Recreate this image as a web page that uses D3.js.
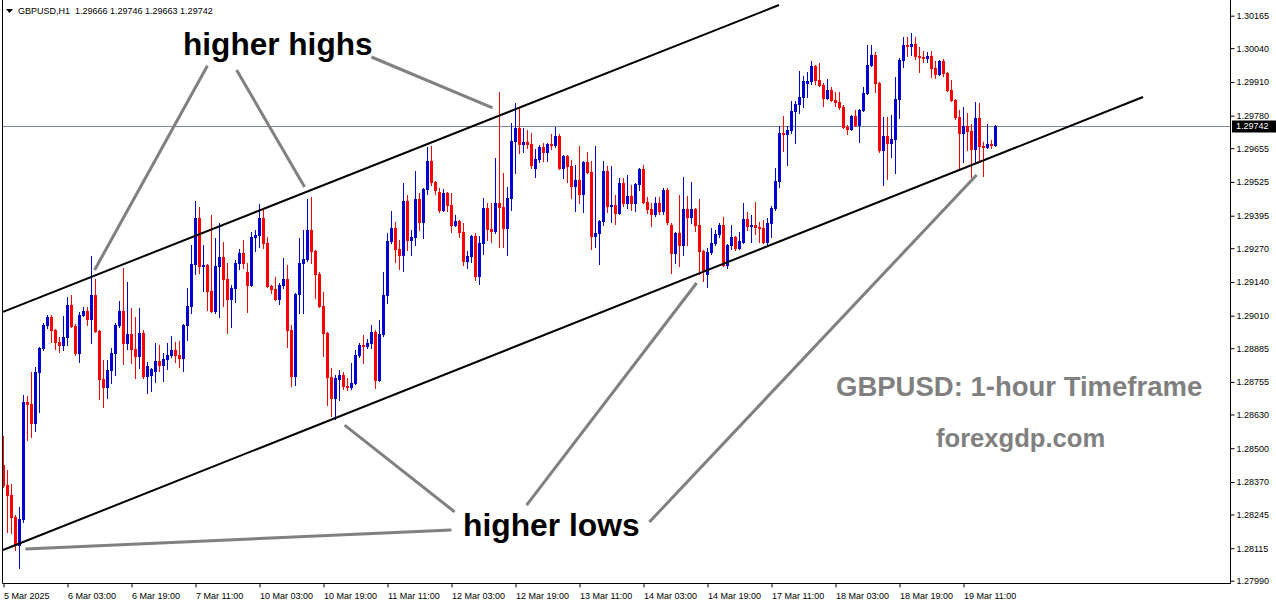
<!DOCTYPE html>
<html><head><meta charset="utf-8">
<script src="https://cdn.jsdelivr.net/npm/d3@7"></script>
<style>
html,body{margin:0;padding:0;background:#fff;}
svg{display:block;}
</style></head><body>
<svg id="c" width="1276" height="604"></svg>
<script>
const headerLabel = "GBPUSD,H1  1.29666 1.29746 1.29663 1.29742";
const open = [
1.28436,1.28359,1.28320,1.28236,1.28128,1.28228,1.28678,1.28671,1.28597,1.28794,
1.28886,1.28975,1.29006,1.28956,1.28909,1.28898,1.28929,1.29052,1.28971,1.28867,
1.29013,1.29029,1.28998,1.29090,1.28952,1.28767,1.28736,1.28802,1.28867,1.28975,
1.29029,1.28905,1.28940,1.28882,1.28855,1.28944,1.28778,1.28782,1.28798,1.28836,
1.28821,1.28844,1.28859,1.28879,1.28859,1.28848,1.28975,1.29048,1.29210,1.29387,
1.29202,1.29206,1.29106,1.29029,1.29202,1.29237,1.29152,1.29075,1.29117,1.29213,
1.29252,1.29179,1.29129,1.29314,1.29321,1.29387,1.29290,1.29125,1.29113,1.29075,
1.29129,1.29152,1.28956,1.28778,1.29094,1.29213,1.29229,1.29341,1.29260,1.29171,
1.29048,1.28944,1.28775,1.28694,1.28767,1.28782,1.28740,1.28736,1.28751,1.28859,
1.28898,1.28894,1.28905,1.28948,1.28763,1.28940,1.29090,1.29298,1.29348,1.29267,
1.29244,1.29452,1.29302,1.29314,1.29460,1.29371,1.29498,1.29606,1.29525,1.29487,
1.29417,1.29483,1.29437,1.29360,1.29375,1.29333,1.29221,1.29240,1.29317,1.29163,
1.29290,1.29425,1.29344,1.29337,1.29444,1.29429,1.29348,1.29464,1.29683,1.29733,
1.29672,1.29679,1.29672,1.29579,1.29614,1.29660,1.29641,1.29672,1.29668,1.29702,
1.29579,1.29625,1.29587,1.29510,1.29533,1.29479,1.29602,1.29564,1.29317,1.29329,
1.29375,1.29568,1.29433,1.29437,1.29406,1.29521,1.29444,1.29471,1.29444,1.29518,
1.29575,1.29448,1.29421,1.29402,1.29444,1.29414,1.29494,1.29360,1.29252,1.29329,
1.29283,1.29421,1.29391,1.29421,1.29360,1.29260,1.29171,1.29256,1.29290,1.29325,
1.29360,1.29206,1.29283,1.29314,1.29271,1.29294,1.29383,1.29356,1.29360,1.29352,
1.29348,1.29294,1.29367,1.29425,1.29529,1.29714,1.29710,1.29726,1.29799,1.29826,
1.29853,1.29906,1.29914,1.29972,1.29918,1.29899,1.29849,1.29880,1.29841,1.29833,
1.29814,1.29737,1.29729,1.29779,1.29745,1.29803,1.29868,1.29976,1.30014,1.29906,
1.29649,1.29702,1.29675,1.29691,1.29845,1.29995,1.30053,1.30049,1.30057,1.30010,
1.30007,1.30003,1.30010,1.29964,1.29941,1.29991,1.29945,1.29880,1.29841,1.29776,
1.29714,1.29741,1.29722,1.29652,1.29772,1.29664,1.29660,1.29672,1.29666];
const high = [
1.28547,1.28417,1.28363,1.28243,1.28274,1.28705,1.28701,1.28794,1.28813,1.28890,
1.28982,1.29013,1.29013,1.28959,1.28929,1.29009,1.29083,1.29090,1.28979,1.29025,
1.29044,1.29044,1.29240,1.29152,1.28956,1.28840,1.28840,1.28886,1.28982,1.29067,
1.29194,1.29140,1.29040,1.29006,1.29040,1.28956,1.28832,1.28809,1.28905,1.28898,
1.28867,1.28905,1.28932,1.28909,1.28913,1.28979,1.29117,1.29283,1.29452,1.29429,
1.29283,1.29210,1.29398,1.29310,1.29367,1.29294,1.29213,1.29129,1.29225,1.29267,
1.29302,1.29213,1.29333,1.29341,1.29441,1.29425,1.29314,1.29129,1.29160,1.29136,
1.29233,1.29206,1.28975,1.29098,1.29310,1.29341,1.29460,1.29468,1.29264,1.29179,
1.29102,1.28948,1.28809,1.28782,1.28802,1.28794,1.28771,1.28828,1.28879,1.28905,
1.28936,1.28921,1.28975,1.28956,1.28994,1.29179,1.29329,1.29414,1.29371,1.29302,
1.29521,1.29475,1.29341,1.29568,1.29483,1.29502,1.29660,1.29664,1.29529,1.29502,
1.29498,1.29487,1.29483,1.29398,1.29379,1.29367,1.29260,1.29321,1.29329,1.29317,
1.29464,1.29444,1.29444,1.29618,1.29872,1.29560,1.29506,1.29752,1.29829,1.29814,
1.29733,1.29726,1.29714,1.29652,1.29668,1.29675,1.29675,1.29710,1.29737,1.29710,
1.29629,1.29629,1.29610,1.29591,1.29664,1.29606,1.29641,1.29606,1.29664,1.29379,
1.29606,1.29587,1.29587,1.29475,1.29541,1.29541,1.29552,1.29514,1.29521,1.29579,
1.29591,1.29468,1.29444,1.29468,1.29468,1.29502,1.29502,1.29367,1.29333,1.29475,
1.29545,1.29471,1.29525,1.29425,1.29460,1.29264,1.29271,1.29348,1.29341,1.29367,
1.29391,1.29287,1.29360,1.29317,1.29333,1.29444,1.29410,1.29398,1.29448,1.29371,
1.29379,1.29387,1.29433,1.29579,1.29741,1.29779,1.29741,1.29837,1.29837,1.29953,
1.29933,1.29949,1.29991,1.29976,1.29983,1.29906,1.29922,1.29891,1.29872,1.29872,
1.29822,1.29745,1.29783,1.29803,1.29806,1.29891,1.30053,1.30053,1.30026,1.29910,
1.29776,1.29776,1.29783,1.29930,1.30003,1.30084,1.30084,1.30099,1.30084,1.30045,
1.30030,1.30026,1.30030,1.29991,1.29995,1.29999,1.29949,1.29918,1.29845,1.29803,
1.29814,1.29791,1.29749,1.29833,1.29829,1.29679,1.29749,1.29687,1.29746];
const low = [
1.28351,1.28178,1.28174,1.28109,1.28039,1.28216,1.28532,1.28544,1.28567,1.28640,
1.28879,1.28963,1.28909,1.28882,1.28871,1.28879,1.28898,1.28967,1.28859,1.28832,
1.29009,1.28975,1.28905,1.28948,1.28690,1.28659,1.28694,1.28751,1.28782,1.28967,
1.28825,1.28882,1.28828,1.28771,1.28809,1.28771,1.28713,1.28721,1.28755,1.28798,
1.28759,1.28805,1.28852,1.28832,1.28813,1.28798,1.28917,1.29021,1.29171,1.29175,
1.29106,1.29033,1.29025,1.29021,1.29006,1.29048,1.28944,1.28967,1.29063,1.29190,
1.29194,1.29025,1.29125,1.29260,1.29275,1.29271,1.29121,1.29098,1.29071,1.29056,
1.29117,1.28890,1.28740,1.28744,1.29021,1.29021,1.29221,1.29213,1.29079,1.29044,
1.28855,1.28667,1.28624,1.28613,1.28686,1.28728,1.28725,1.28728,1.28748,1.28852,
1.28828,1.28886,1.28886,1.28732,1.28759,1.28932,1.29059,1.29290,1.29217,1.29190,
1.29183,1.29264,1.29244,1.29283,1.29341,1.29310,1.29479,1.29514,1.29479,1.29410,
1.29414,1.29414,1.29333,1.29356,1.29314,1.29206,1.29194,1.29217,1.29148,1.29133,
1.29248,1.29302,1.29294,1.29329,1.29275,1.29275,1.29244,1.29417,1.29560,1.29637,
1.29641,1.29656,1.29579,1.29545,1.29602,1.29606,1.29606,1.29652,1.29660,1.29575,
1.29541,1.29525,1.29464,1.29414,1.29444,1.29410,1.29560,1.29267,1.29275,1.29210,
1.29360,1.29410,1.29371,1.29364,1.29402,1.29433,1.29425,1.29417,1.29414,1.29494,
1.29444,1.29406,1.29356,1.29394,1.29402,1.29402,1.29364,1.29175,1.29213,1.29202,
1.29244,1.29283,1.29367,1.29337,1.29171,1.29144,1.29121,1.29248,1.29283,1.29314,
1.29202,1.29194,1.29267,1.29264,1.29267,1.29290,1.29341,1.29294,1.29325,1.29294,
1.29290,1.29287,1.29314,1.29417,1.29506,1.29645,1.29591,1.29714,1.29675,1.29791,
1.29814,1.29853,1.29903,1.29903,1.29895,1.29818,1.29845,1.29837,1.29818,1.29806,
1.29733,1.29710,1.29726,1.29741,1.29679,1.29799,1.29864,1.29972,1.29872,1.29641,
1.29514,1.29537,1.29622,1.29560,1.29772,1.29968,1.30010,1.30014,1.29999,1.29949,
1.29987,1.29987,1.29930,1.29926,1.29937,1.29933,1.29876,1.29837,1.29768,1.29572,
1.29602,1.29649,1.29545,1.29598,1.29602,1.29548,1.29656,1.29656,1.29663];
const close = [
1.28359,1.28320,1.28236,1.28128,1.28228,1.28678,1.28671,1.28597,1.28794,1.28886,
1.28975,1.29006,1.28956,1.28909,1.28898,1.28929,1.29052,1.28971,1.28867,1.29013,
1.29029,1.28998,1.29090,1.28952,1.28767,1.28736,1.28802,1.28867,1.28975,1.29029,
1.28905,1.28940,1.28882,1.28855,1.28944,1.28778,1.28817,1.28805,1.28836,1.28821,
1.28844,1.28859,1.28879,1.28859,1.28848,1.28975,1.29048,1.29210,1.29387,1.29202,
1.29206,1.29106,1.29029,1.29202,1.29237,1.29152,1.29075,1.29117,1.29213,1.29252,
1.29213,1.29129,1.29314,1.29321,1.29387,1.29290,1.29125,1.29113,1.29075,1.29129,
1.29152,1.28956,1.28778,1.29094,1.29213,1.29229,1.29341,1.29260,1.29171,1.29048,
1.28944,1.28775,1.28694,1.28771,1.28782,1.28740,1.28736,1.28751,1.28859,1.28898,
1.28894,1.28905,1.28948,1.28763,1.28940,1.29090,1.29298,1.29348,1.29267,1.29244,
1.29452,1.29302,1.29314,1.29460,1.29371,1.29498,1.29606,1.29525,1.29494,1.29417,
1.29483,1.29437,1.29360,1.29375,1.29333,1.29221,1.29240,1.29317,1.29163,1.29290,
1.29425,1.29344,1.29337,1.29444,1.29429,1.29348,1.29464,1.29683,1.29733,1.29672,
1.29679,1.29672,1.29591,1.29614,1.29660,1.29641,1.29672,1.29668,1.29702,1.29579,
1.29625,1.29587,1.29510,1.29533,1.29479,1.29602,1.29564,1.29317,1.29329,1.29375,
1.29568,1.29433,1.29437,1.29406,1.29521,1.29444,1.29471,1.29444,1.29518,1.29575,
1.29448,1.29421,1.29402,1.29444,1.29414,1.29494,1.29371,1.29252,1.29329,1.29283,
1.29421,1.29391,1.29421,1.29360,1.29260,1.29187,1.29256,1.29290,1.29325,1.29360,
1.29206,1.29283,1.29314,1.29271,1.29298,1.29383,1.29356,1.29360,1.29352,1.29348,
1.29294,1.29367,1.29425,1.29529,1.29714,1.29710,1.29726,1.29799,1.29826,1.29853,
1.29914,1.29914,1.29972,1.29918,1.29899,1.29849,1.29880,1.29841,1.29833,1.29814,
1.29737,1.29729,1.29779,1.29745,1.29803,1.29868,1.29976,1.30014,1.29906,1.29649,
1.29702,1.29675,1.29691,1.29845,1.29995,1.30053,1.30049,1.30057,1.30010,1.30007,
1.30003,1.30010,1.29964,1.29941,1.29991,1.29945,1.29880,1.29841,1.29776,1.29714,
1.29741,1.29722,1.29652,1.29772,1.29664,1.29660,1.29672,1.29666,1.29742];

const timeLabels = ["5 Mar 2025","6 Mar 03:00","6 Mar 19:00","7 Mar 11:00","10 Mar 03:00","10 Mar 19:00",
  "11 Mar 11:00","12 Mar 03:00","12 Mar 19:00","13 Mar 11:00","14 Mar 03:00","14 Mar 19:00",
  "17 Mar 11:00","18 Mar 03:00","18 Mar 19:00","19 Mar 11:00"];
const timeLabelBar = [0,16,32,48,64,80,96,112,128,144,160,176,192,208,224,240];
const priceTicks = [1.30165,1.30040,1.29910,1.29780,1.29655,1.29525,1.29395,1.29270,1.29140,
  1.29010,1.28885,1.28755,1.28630,1.28500,1.28370,1.28245,1.28115,1.27990];
const lastPrice = 1.29742;
// channel lines: [bar, price]
const upperChannel = [[0, 1.29025], [194, 1.30206]];
const lowerChannel = [[0, 1.28108], [285, 1.29852]];
// annotation pointer lines: [bar, price] pairs
const highPointers = [
  [[51.1, 1.29972], [22.9, 1.29186]],
  [[58.4, 1.29956], [75.4, 1.29506]],
  [[92.1, 1.30006], [122.4, 1.29810]]];
const lowPointers = [
  [[112.9, 1.28255], [85.4, 1.28589]],
  [[130.9, 1.28281], [173.4, 1.29136]],
  [[161.6, 1.28216], [243.4, 1.29552]],
  [[112.1, 1.28185], [5.6, 1.28112]]];
const titleTexts = ["higher highs", "higher lows", "GBPUSD: 1-hour Timeframe", "forexgdp.com"];

const plotLeft = 2, plotRight = 1230, plotBottom = 583;
const svg = d3.select("#c");
const x = d3.scaleLinear().domain([0, 1]).range([3, 7]);
const y = d3.scaleLinear().domain([1.27990, 1.30165]).range([580.7, 15.7]);
const FONT = "'Liberation Sans', Arial, sans-serif";

svg.append("defs").append("clipPath").attr("id","plot")
  .append("rect").attr("x", plotLeft).attr("y", 0).attr("width", plotRight - plotLeft).attr("height", plotBottom);

const g = svg.append("g").attr("clip-path","url(#plot)");

// current price line
g.append("line").attr("x1", plotLeft).attr("x2", plotRight)
  .attr("y1", Math.round(y(lastPrice)) + 0.5).attr("y2", Math.round(y(lastPrice)) + 0.5)
  .attr("stroke", "#7c8a98").attr("stroke-width", 1);

// candles
const bars = d3.range(close.length).map(i => ({i, o: open[i], h: high[i], l: low[i], c: close[i]}));
const cg = g.append("g");
bars.forEach(d => {
  const col = d.c >= d.o ? "#0000d0" : "#ff0000";
  const xc = Math.round(x(d.i));
  const yh = Math.round(y(d.h)), yl = Math.round(y(d.l));
  cg.append("rect").attr("x", xc).attr("y", yh).attr("width", 1).attr("height", Math.max(1, yl - yh + 1)).attr("fill", col);
  const yt = Math.round(y(Math.max(d.o, d.c))), yb = Math.round(y(Math.min(d.o, d.c)));
  cg.append("rect").attr("x", xc - 1).attr("y", yt).attr("width", 3).attr("height", Math.max(1, yb - yt + 1)).attr("fill", col);
});

// channel lines
const line = d3.line().x(d => x(d[0])).y(d => y(d[1]));
[upperChannel, lowerChannel].forEach(c => {
  g.append("path").attr("d", line(c)).attr("stroke", "#000").attr("stroke-width", 2).attr("fill", "none");
});

// pointer lines
[...highPointers, ...lowPointers].forEach(p => {
  g.append("path").attr("d", line(p)).attr("stroke", "#808080").attr("stroke-width", 3).attr("fill", "none");
});

// texts
svg.append("text").attr("x", 183).attr("y", 55).text(titleTexts[0])
  .attr("font-family", FONT).attr("font-weight", "bold").attr("font-size", 31.6).attr("fill", "#000");
svg.append("text").attr("x", 463).attr("y", 536).text(titleTexts[1])
  .attr("font-family", FONT).attr("font-weight", "bold").attr("font-size", 31.8).attr("fill", "#000");
svg.append("text").attr("x", 836).attr("y", 396).text(titleTexts[2])
  .attr("font-family", FONT).attr("font-weight", "bold").attr("font-size", 27.5).attr("fill", "#808080");
svg.append("text").attr("x", 936).attr("y", 447).text(titleTexts[3])
  .attr("font-family", FONT).attr("font-weight", "bold").attr("font-size", 25.6).attr("fill", "#808080");

// frame
svg.append("path").attr("d", `M${plotLeft+0.5},0V${plotBottom+0.5}H${plotRight+0.5}V0`)
  .attr("stroke", "#000").attr("fill", "none").attr("stroke-width", 1);

// right axis
const ya = svg.append("g").attr("transform", `translate(${plotRight + 0.5},0)`)
  .call(d3.axisRight(y).tickValues(priceTicks).tickSize(4).tickPadding(2).tickFormat(d3.format(".5f")));
ya.select(".domain").remove();
ya.selectAll("text").attr("font-family", FONT).attr("font-size", 9).attr("fill", "#000");
ya.selectAll("line").attr("stroke", "#000");

// bottom axis
const xa = svg.append("g").attr("transform", `translate(0.5,${plotBottom + 0.5})`)
  .call(d3.axisBottom(x).tickValues(timeLabelBar).tickSize(4).tickPadding(5)
    .tickFormat((d, i) => timeLabels[i]));
xa.select(".domain").remove();
xa.selectAll("text").attr("font-family", FONT).attr("font-size", 9).attr("fill", "#000").attr("text-anchor", "start").attr("x", 0);
xa.selectAll("line").attr("stroke", "#000");

// last price box
const ylp = Math.round(y(lastPrice));
svg.append("rect").attr("x", plotRight + 2).attr("y", ylp - 5.5).attr("width", 44).attr("height", 12).attr("fill", "#000");
svg.append("text").attr("x", plotRight + 6).attr("y", ylp + 0.5).attr("dy", "0.32em").text(d3.format(".5f")(lastPrice))
  .attr("font-family", FONT).attr("font-size", 9).attr("fill", "#fff");

// header
svg.append("path").attr("d", "M6,9H13L9.5,13Z").attr("fill", "#000");
svg.append("text").attr("x", 18).attr("y", 14).text(headerLabel)
  .style("white-space", "pre")
  .attr("font-family", FONT).attr("font-size", 9).attr("fill", "#000");
</script>
</body></html>
